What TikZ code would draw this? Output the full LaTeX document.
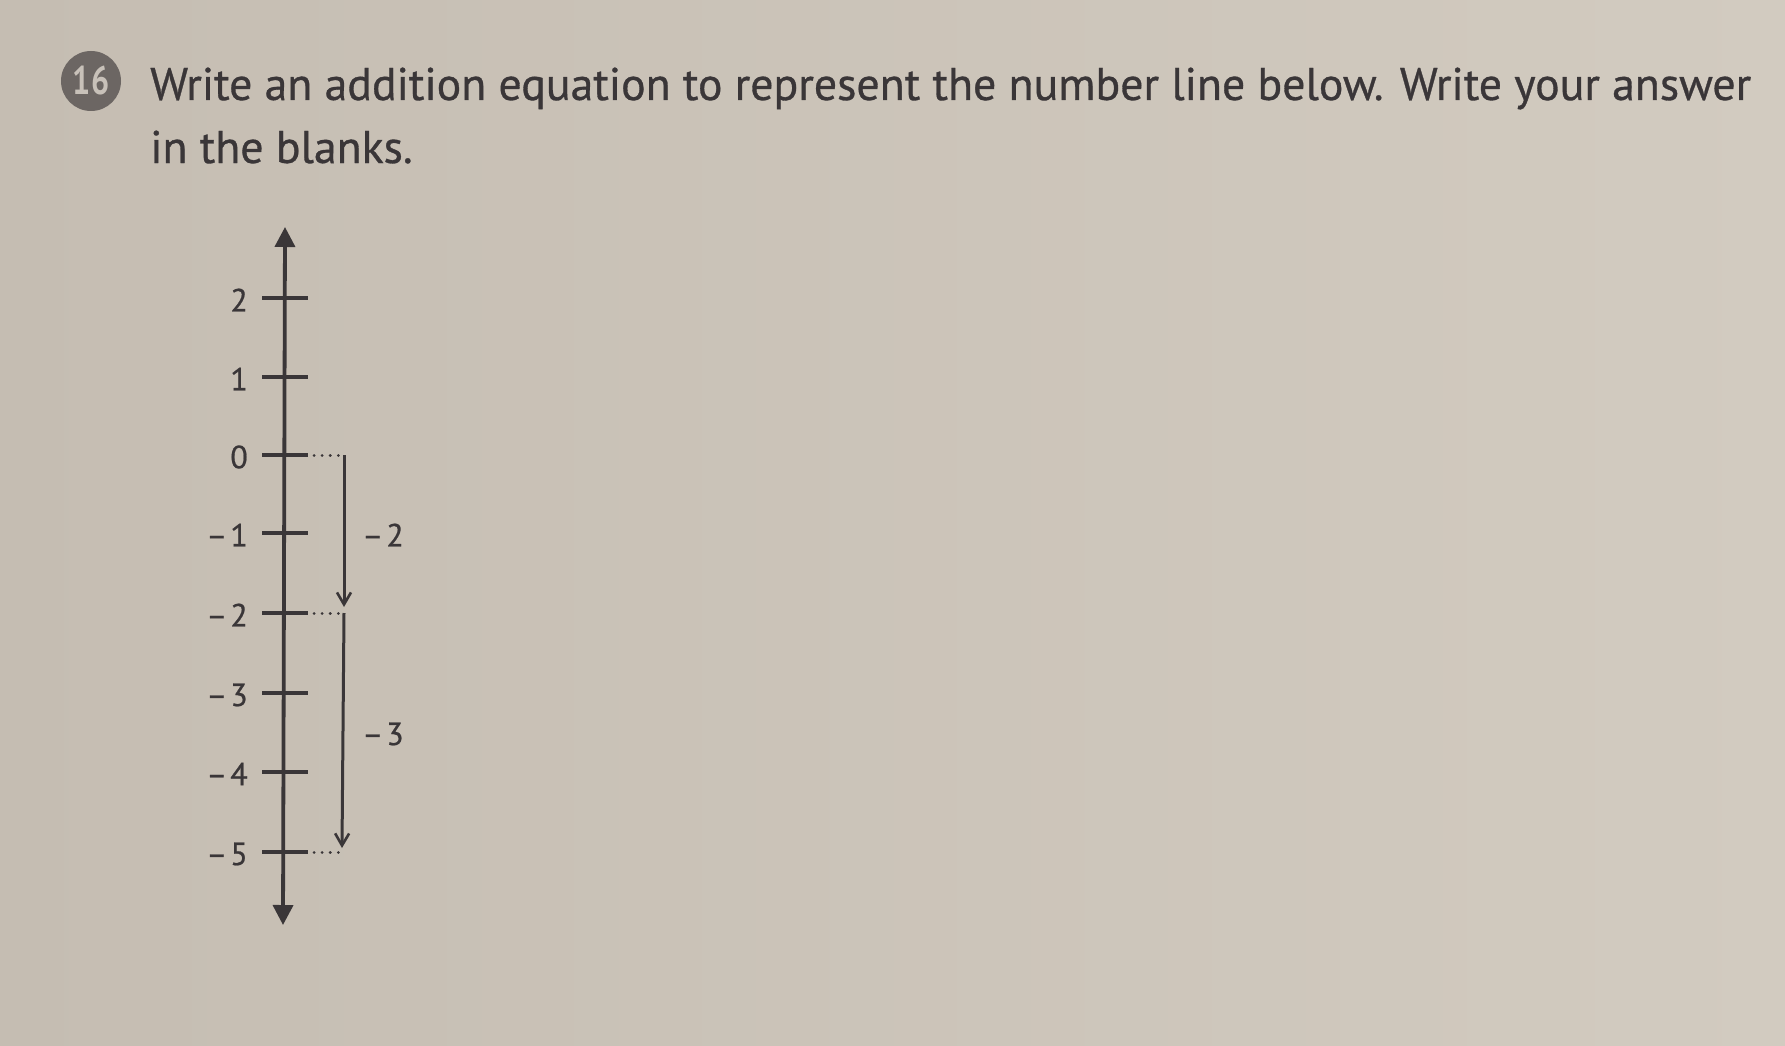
\documentclass[tikz,border=0pt]{standalone}
\usepackage{fontspec}
\setmainfont{PT Sans}
\newfontfamily\semib{PT Sans}[RawFeature={embolden=0.7}]
\usetikzlibrary{arrows.meta,calc}
\definecolor{bgA}{RGB}{197,189,178}
\definecolor{bgB}{RGB}{210,203,192}
\definecolor{ink}{RGB}{58,54,56}
\definecolor{badge}{RGB}{108,102,99}
\definecolor{badgetxt}{RGB}{200,193,185}
\newcommand{\mns}{–\kern3pt}
\tikzset{
  lbl/.style={anchor=east, text=ink, font=\semib\fontsize{32}{36}\selectfont, inner sep=0pt},
  jumplbl/.style={anchor=west, text=ink, font=\semib\fontsize{32}{36}\selectfont, inner sep=0pt},
  tick/.style={draw=ink, line width=3.6pt},
  axis/.style={draw=ink, line width=3.8pt, {Triangle[length=20pt,width=20pt]}-{Triangle[length=20pt,width=20pt]}},
  jump/.style={draw=ink, line width=3pt, -{Straight Barb[length=12pt,width=14pt,line width=2.6pt]}},
  dots/.style={draw=ink, line width=3pt, line cap=round, dash pattern=on 0.1pt off 8pt},
  head/.style={anchor=base west, text=ink, font=\semib\fontsize{45.8}{54}\selectfont, inner sep=0pt}
}
\begin{document}
\begin{tikzpicture}[x=1pt,y=-1pt]
\useasboundingbox (0,0) rectangle (1785,1046);
\shade[left color=bgA, right color=bgB] (0,0) rectangle (1785,1046);
% badge
\node[circle, fill=badge, minimum size=60pt, inner sep=0pt, text=badgetxt,
      font=\fontsize{40}{42}\selectfont\bfseries] (badge) at (91,81) {\scalebox{0.8}[1]{16}};
% question text
\node[head] (q1) at (150,100) {Write an addition equation to represent the number line below. Write your answer};
\node[head] (q2) at (150,163) {in the blanks.};
% axis
\coordinate (top) at (285,227);
\coordinate (bot) at (283,925);
\draw[axis] (bot) -- (top);
% ticks and labels
\foreach \v/\yy in {2/298,1/377,0/455,-1/533,-2/613,-3/693,-4/772,-5/852}{
  \coordinate (t\v) at (284,\yy);
  \draw[tick] ($(t\v)+(-22,0)$) -- ($(t\v)+(24,0)$);
}
\node[lbl] (l2) at (248,300) {2};
\node[lbl] (l1) at (248,379) {1};
\node[lbl] (l0) at (248,457) {0};
\node[lbl] (lm1) at (248,535) {\mns 1};
\node[lbl] (lm2) at (248,615) {\mns 2};
\node[lbl] (lm3) at (248,695) {\mns 3};
\node[lbl] (lm4) at (248,774) {\mns 4};
\node[lbl] (lm5) at (248,854) {\mns 5};
% jump coordinates
\coordinate (d0) at (314,455);
\coordinate (b0) at (344,455);
\coordinate (d2) at (314,613);
\coordinate (b2) at (344,613);
\coordinate (d5) at (314,852);
\coordinate (b5) at (342,852);
\draw[dots] (d0) -- (b0);
\draw[dots] (d2) -- (b2);
\draw[dots] (d5) -- (b5);
\draw[jump] (b0) -- ($(b2)+(0,-6)$);
\draw[jump] (b2) -- ($(b5)+(0,-4)$);
\node[jumplbl] (j1) at (362,535) {\mns 2};
\node[jumplbl] (j2) at (362,734) {\mns 3};
\end{tikzpicture}
\end{document}
